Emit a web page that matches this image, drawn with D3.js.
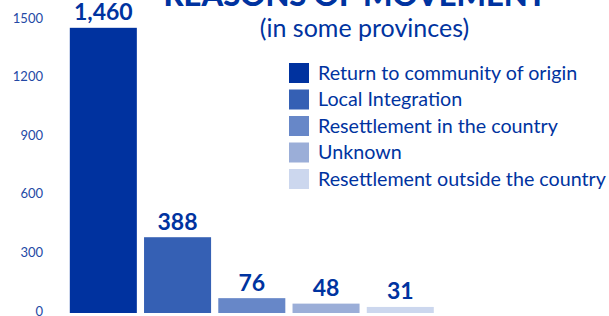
<!DOCTYPE html>
<html>
<head>
<meta charset="utf-8">
<script src="https://cdn.jsdelivr.net/npm/d3@7"></script>
<style>
  html, body { margin: 0; padding: 0; background: #fff; }
  svg { display: block; }
</style>
</head>
<body>
<script>
const categories = ["Return to community of origin", "Local Integration", "Resettlement in the country", "Unknown", "Resettlement outside the country"];
const values = [1460, 388, 76, 48, 31];
const valueLabels = ["1,460", "388", "76", "48", "31"];
const colors = ["#00329F", "#3560B4", "#6787C8", "#9BAED8", "#CCD7EE"];
const yTicks = [0, 300, 600, 900, 1200, 1500];
const title = "REASONS OF MOVEMENT";
const subtitle = "(in some provinces)";

const W = 609, H = 316;
const svg = d3.select("body").append("svg").attr("width", W).attr("height", H);
const textColor = "#0033A0";
const font = "Lato, 'Open Sans', sans-serif";

const x = d3.scaleBand().domain(categories).range([62.6, 441]).paddingInner(0.097).paddingOuter(0.097);
const y = d3.scaleLinear().domain([0, 1500]).range([313, 20]);

// y axis (labels only)
const yAxis = d3.axisLeft(y).tickValues(yTicks).tickSize(0).tickPadding(0).tickFormat(d3.format("d"));
const gy = svg.append("g").attr("transform", "translate(43,0)").call(yAxis);
gy.select(".domain").remove();
gy.selectAll("text").attr("fill", "#2449A5").attr("font-family", font).attr("font-size", 13)
  .attr("y", -2.5).attr("dy", "0.35em");

// bars
svg.selectAll("rect.bar").data(categories).enter().append("rect")
  .attr("class", "bar")
  .attr("x", d => x(d))
  .attr("width", x.bandwidth())
  .attr("y", (d, i) => y(values[i]))
  .attr("height", (d, i) => y(0) - y(values[i]))
  .attr("fill", (d, i) => colors[i]);

// value labels
svg.selectAll("text.val").data(categories).enter().append("text")
  .attr("class", "val")
  .attr("x", d => x(d) + x.bandwidth() / 2)
  .attr("y", (d, i) => y(values[i]) - 7.5)
  .attr("text-anchor", "middle")
  .attr("font-family", font)
  .attr("font-weight", "bold")
  .attr("font-size", 23)
  .attr("fill", textColor)
  .text((d, i) => valueLabels[i]);

// title
svg.append("text").attr("x", 355).attr("y", 6).attr("text-anchor", "middle")
  .attr("font-family", font).attr("font-weight", "900").attr("font-size", 31)
  .attr("fill", textColor).text(title);
svg.append("text").attr("x", 364.5).attr("y", 37).attr("text-anchor", "middle")
  .attr("font-family", font).attr("font-size", 25)
  .attr("fill", textColor).text(subtitle);

// legend
const lg = svg.append("g").attr("transform", "translate(289,63)");
const row = lg.selectAll("g").data(categories).enter().append("g")
  .attr("transform", (d, i) => `translate(0,${i * 26.5})`);
row.append("rect").attr("width", 20).attr("height", 20).attr("fill", (d, i) => colors[i]);
row.append("text").attr("x", 29).attr("y", 10).attr("dy", "0.35em")
  .attr("font-family", font).attr("font-size", 19.7).attr("fill", textColor).text(d => d);
</script>
</body>
</html>
